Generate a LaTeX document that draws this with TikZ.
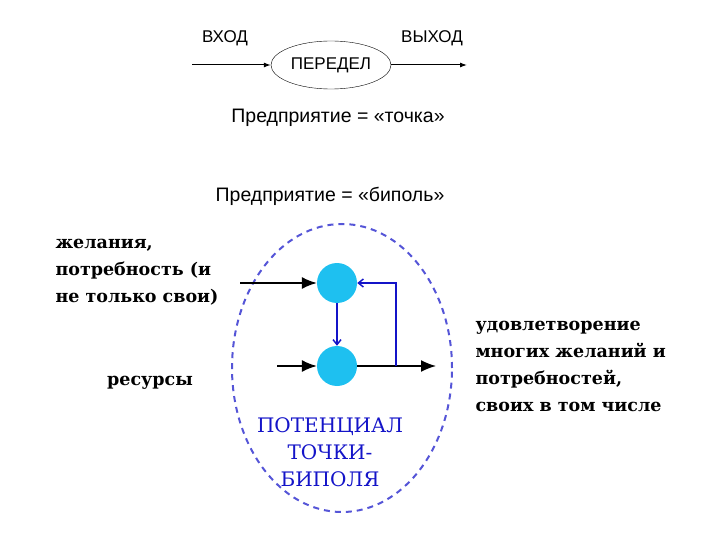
\documentclass[tikz,border=0pt]{standalone}
\usepackage{fontspec}
\setmainfont{DejaVu Serif}
\newfontfamily\labelfont{Liberation Sans}
\usetikzlibrary{positioning,shapes.geometric,arrows.meta}

\definecolor{bipoleblue}{RGB}{85,85,215}
\definecolor{ballcyan}{RGB}{30,192,240}
\definecolor{textblue}{RGB}{20,20,200}

\begin{document}
\begin{tikzpicture}[
    x=1pt, y=-1pt,
    sans/.style={font=\labelfont\fontsize{17}{20}\selectfont},
    caption/.style={font=\labelfont\fontsize{19.5}{22}\selectfont},
    slab/.style={font=\bfseries\fontsize{17.5}{27}\selectfont, align=left},
    process/.style={ellipse,draw,minimum width=120pt,minimum height=48pt,inner sep=0pt},
    ball/.style={circle,fill=ballcyan,minimum size=40pt,inner sep=0pt},
    field/.style={ellipse,draw=bipoleblue,line width=2pt,dash pattern=on 6pt off 5pt,
        minimum width=220pt,minimum height=288pt},
    flow/.style={line width=1pt,-{Latex[length=7pt,width=5pt]}},
    feed/.style={draw=black,line width=1.5pt,-{Latex[length=15pt,width=12pt]}},
    back/.style={draw=textblue,line width=1.5pt,-{Straight Barb[length=5pt,width=8pt]}}
]
\useasboundingbox (0,0) rectangle (720,540);

% Enterprise as a point
\node[sans] (in) at (225,38) {ВХОД};
\node[sans] (out) at (432,38) {ВЫХОД};
\node[process,sans] (proc) at (331,65) {ПЕРЕДЕЛ};
\coordinate (inL) at (192,65);
\coordinate (outR) at (467,65);

\draw[flow] (inL) -- (proc);
\draw[flow] (proc) -- (outR);

\node[caption] (point) at (338,118) {Предприятие = «точка»};
\node[caption] (bipole) at (330,196) {Предприятие = «биполь»};

% Enterprise as a bipole
\node[field] (zone) at (342,368) {};

\node[ball] (need) at (337,283) {};
\node[ball] (res) at (337,366) {};

\coordinate (needIn) at (240,283);
\coordinate (resIn) at (277,366);
\coordinate (fork) at (396,366);
\coordinate (outTip) at (436,366);

\draw[feed] (needIn) -- (need);
\draw[feed] (resIn) -- (res);
\draw[feed] (res) -- (outTip);

\draw[back] (need) -- (res);
\draw[back] (fork) |- (need);

% Labels
\node[slab,anchor=west] (wants) at (52,272) {желания,\\потребность (и\\не только свои)};
\node[slab] (resources) at (150,383) {ресурсы};
\node[slab,anchor=west] (result) at (472,366) {удовлетворение\\многих желаний и\\потребностей,\\своих в том числе};
\node[font=\fontsize{20}{27}\selectfont,align=center,text=textblue] (potential) at (330,452)
    {ПОТЕНЦИАЛ\\ТОЧКИ-\\БИПОЛЯ};

\end{tikzpicture}
\end{document}
